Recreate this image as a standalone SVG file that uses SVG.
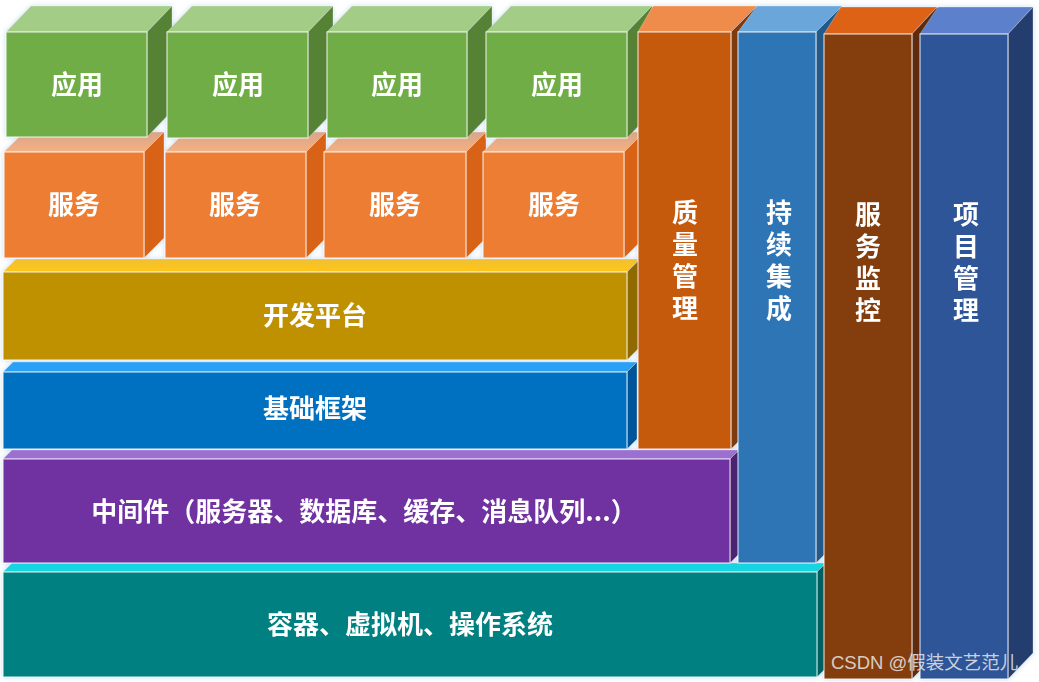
<svg xmlns="http://www.w3.org/2000/svg" width="1039" height="682" viewBox="0 0 1039 682">
<defs>
<style>
.t{font-family:"Noto Sans CJK SC","Noto Sans",sans-serif;font-weight:bold;font-size:26px;fill:#fff;text-anchor:middle;dominant-baseline:central}
.v{font-family:"Noto Sans CJK SC","Noto Sans",sans-serif;font-weight:bold;font-size:26px;fill:#fff;writing-mode:vertical-rl;text-orientation:upright;letter-spacing:6.2px;dominant-baseline:central}
.f{stroke:#ffffff;stroke-opacity:0.75;stroke-width:1.2}
.e{stroke:#ffffff;stroke-opacity:0.35;stroke-width:0.8}
.wm{font-family:"Liberation Sans","Noto Sans CJK SC",sans-serif;font-size:18.5px;fill:#e8e8e8;fill-opacity:0.85}
</style>
<linearGradient id="og" x1="0" y1="0" x2="0" y2="1"><stop offset="0" stop-color="#D9A58A"/><stop offset="1" stop-color="#F4B183"/></linearGradient>
<linearGradient id="yg" x1="0" y1="0" x2="0" y2="1"><stop offset="0" stop-color="#F0C030"/><stop offset="1" stop-color="#FFC61A"/></linearGradient>
<filter id="glow" x="-5%" y="-5%" width="110%" height="110%"><feDropShadow dx="0" dy="0" stdDeviation="2.5" flood-color="#9DC3E6" flood-opacity="0.6"/></filter>
</defs>
<rect width="1039" height="682" fill="#ffffff"/>
<g filter="url(#glow)">
<g id="base">
<polygon points="3,572 12,563 826,563 817,572" fill="#14D4E0" class="e"/>
<polygon points="817,572 826,563 826,668 817,677" fill="#005E5E" class="e"/>
<rect x="3" y="572" width="814" height="105" fill="#008080" class="f"/>
<text class="t" x="410" y="622.5">容器、虚拟机、操作系统</text>
</g>
<g id="middleware">
<polygon points="3,459 12,450 739,450 730,459" fill="#9B6FD0" class="e"/>
<polygon points="730,459 739,450 739,554 730,563" fill="#4E2272" class="e"/>
<rect x="3" y="459" width="727" height="104" fill="#7030A0" class="f"/>
<text class="t" x="364" y="509">中间件（服务器、数据库、缓存、消息队列...）</text>
</g>
<g id="framework">
<polygon points="3,372 13,362 637,362 627,372" fill="#29A1F7" class="e"/>
<polygon points="627,372 637,362 637,439 627,449" fill="#00559A" class="e"/>
<rect x="3" y="372" width="624" height="77" fill="#0070C0" class="f"/>
<text class="t" x="315" y="406.5">基础框架</text>
</g>
<g id="devplatform">
<polygon points="3,272 16,259 640,259 627,272" fill="url(#yg)" class="e"/>
<polygon points="627,272 640,259 640,347 627,360" fill="#8E6B00" class="e"/>
<rect x="3" y="272" width="624" height="88" fill="#BF9000" class="f"/>
<text class="t" x="315" y="313.5">开发平台</text>
</g>
<g id="service1">
<polygon points="4,152 24,132 164,132 144,152" fill="url(#og)" class="e"/>
<polygon points="144,152 164,132 164,238 144,258" fill="#D86315" class="e"/>
<rect x="4" y="152" width="140" height="106" fill="#ED7D31" class="f"/>
<text class="t" x="74" y="202">服务</text>
</g>
<g id="service2">
<polygon points="165,152 185,132 326,132 306,152" fill="url(#og)" class="e"/>
<polygon points="306,152 326,132 326,238 306,258" fill="#D86315" class="e"/>
<rect x="165" y="152" width="141" height="106" fill="#ED7D31" class="f"/>
<text class="t" x="235" y="202">服务</text>
</g>
<g id="service3">
<polygon points="324,152 344,132 486,132 466,152" fill="url(#og)" class="e"/>
<polygon points="466,152 486,132 486,238 466,258" fill="#D86315" class="e"/>
<rect x="324" y="152" width="142" height="106" fill="#ED7D31" class="f"/>
<text class="t" x="395" y="202">服务</text>
</g>
<g id="service4">
<polygon points="483,152 503,132 644,132 624,152" fill="url(#og)" class="e"/>
<polygon points="624,152 644,132 644,238 624,258" fill="#D86315" class="e"/>
<rect x="483" y="152" width="141" height="106" fill="#ED7D31" class="f"/>
<text class="t" x="554" y="202">服务</text>
</g>
<g id="app1">
<polygon points="6,32 31,6 172,6 147,32" fill="#A3CC87" class="e"/>
<polygon points="147,32 172,6 172,111 147,137" fill="#548235" class="e"/>
<rect x="6" y="32" width="141" height="105" fill="#70AD47" class="f"/>
<text class="t" x="77" y="82">应用</text>
</g>
<g id="app2">
<polygon points="167,32 192,6 333,6 308,32" fill="#A3CC87" class="e"/>
<polygon points="308,32 333,6 333,112 308,138" fill="#548235" class="e"/>
<rect x="167" y="32" width="141" height="106" fill="#70AD47" class="f"/>
<text class="t" x="238" y="82">应用</text>
</g>
<g id="app3">
<polygon points="327,32 352,6 492,6 467,32" fill="#A3CC87" class="e"/>
<polygon points="467,32 492,6 492,112 467,138" fill="#548235" class="e"/>
<rect x="327" y="32" width="140" height="106" fill="#70AD47" class="f"/>
<text class="t" x="397" y="82">应用</text>
</g>
<g id="app4">
<polygon points="486,32 511,6 652,6 627,32" fill="#A3CC87" class="e"/>
<polygon points="627,32 652,6 652,112 627,138" fill="#548235" class="e"/>
<rect x="486" y="32" width="141" height="106" fill="#70AD47" class="f"/>
<text class="t" x="557" y="82">应用</text>
</g>
<g id="quality">
<polygon points="638,32 653,6 757,6 731,32" fill="#F08C4C" class="e"/>
<polygon points="731,32 757,6 757,423 731,449" fill="#7E3B0E" class="e"/>
<rect x="638" y="32" width="93" height="417" fill="#C55A11" class="f"/>
<text class="v" x="685" y="199">质量管理</text>
</g>
<g id="ci">
<polygon points="738,32 757,6 842,6 816,32" fill="#6BA6DA" class="e"/>
<polygon points="816,32 842,6 842,537 816,563" fill="#215A8C" class="e"/>
<rect x="738" y="32" width="78" height="531" fill="#2E75B6" class="f"/>
<text class="v" x="779" y="199">持续集成</text>
</g>
<g id="monitor">
<polygon points="824,34 841,7 937,7 912,34" fill="#DE6214" class="e"/>
<polygon points="912,34 937,7 937,653 912,679" fill="#5E2A08" class="e"/>
<rect x="824" y="34" width="88" height="645" fill="#843C0C" class="f"/>
<text class="v" x="868" y="201">服务监控</text>
</g>
<g id="project">
<polygon points="920,34 938,7 1033,7 1008,34" fill="#5B80CC" class="e"/>
<polygon points="1008,34 1033,7 1033,653 1008,679" fill="#223C6E" class="e"/>
<rect x="920" y="34" width="88" height="645" fill="#2F5597" class="f"/>
<text class="v" x="966" y="201">项目管理</text>
</g>
</g>
<g id="connectors"/>
<text class="wm" x="831" y="669">CSDN @假装文艺范儿</text>
</svg>
